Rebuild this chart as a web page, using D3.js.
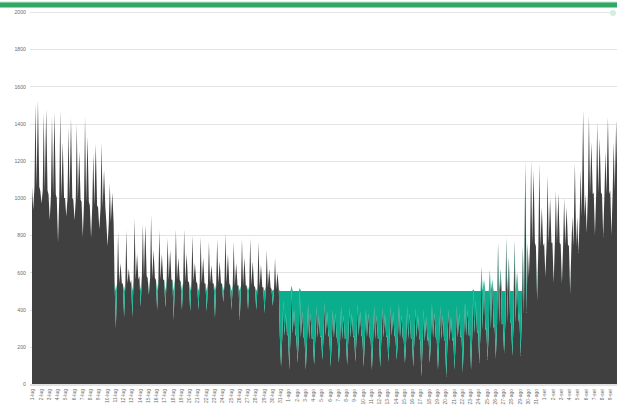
<!DOCTYPE html>
<html>
<head>
<meta charset="utf-8">
<script src="https://cdn.jsdelivr.net/npm/d3@7"></script>
<style>
  html, body { margin: 0; padding: 0; background: #ffffff; }
  svg { display: block; font-family: "Liberation Sans", Arial, sans-serif; }
</style>
</head>
<body>
<svg id="chart" width="617" height="408"></svg>
<script>
// Day labels (Italian short months)
const days = [
  "1-lug","2-lug","3-lug","4-lug","5-lug","6-lug","7-lug","8-lug","9-lug","10-lug",
  "11-lug","12-lug","13-lug","14-lug","15-lug","16-lug","17-lug","18-lug","19-lug","20-lug",
  "21-lug","22-lug","23-lug","24-lug","25-lug","26-lug","27-lug","28-lug","29-lug","30-lug",
  "31-lug","1-ago","2-ago","3-ago","4-ago","5-ago","6-ago","7-ago","8-ago","9-ago",
  "10-ago","11-ago","12-ago","13-ago","14-ago","15-ago","16-ago","17-ago","18-ago","19-ago",
  "20-ago","21-ago","22-ago","23-ago","24-ago","25-ago","26-ago","27-ago","28-ago","29-ago",
  "30-ago","31-ago","1-set","2-set","3-set","4-set","5-set","6-set","7-set","8-set","9-set"
];

// Typical daily level
const dayBody = [
  1060,1040,1020,1000,1000,990,980,960,950,870,
  540,540,560,580,570,560,560,560,550,550,
  540,540,540,540,530,530,530,520,520,510,
  260,270,250,240,250,260,250,240,250,260,
  250,240,250,260,250,240,250,230,250,240,
  230,250,260,270,290,300,320,330,330,380,
  760,740,760,760,750,740,900,1020,1030,1020,1040
];

// Daily minimum
const dayLow = [
  935,970,880,760,900,880,790,785,830,740,
  300,360,360,414,480,398,410,344,398,390,
  398,390,355,440,398,344,398,398,380,420,
  91,75,113,75,102,129,91,113,102,118,
  91,75,91,118,129,113,91,38,113,75,
  38,75,65,75,113,129,140,167,150,150,
  575,450,575,545,540,489,704,810,800,790,800
];

// First daily peak
const dayPeakA = [
  1510,1460,1440,1475,1380,1400,1440,1240,1300,1080,
  817,828,892,860,908,828,785,833,833,800,
  790,765,780,810,765,780,785,765,720,677,
  450,530,516,430,420,440,400,420,410,430,
  400,420,410,420,430,420,410,400,430,420,
  400,420,440,510,630,615,760,790,775,740,
  1204,1188,1124,1040,1000,900,1150,1446,1408,1250,1300
];

// Second daily peak
const dayPeakB = [
  1525,1480,1460,1300,1430,1250,1330,1290,1150,1030,
  650,620,700,855,720,700,720,680,700,650,
  680,640,660,700,650,680,660,640,620,600,
  380,400,390,380,370,390,380,370,380,390,
  380,370,380,390,370,380,370,360,380,370,
  360,380,400,450,560,560,620,683,600,1200,
  1150,950,1000,1027,950,1188,1473,1300,1323,1435,1420
];

// Reference level: the gap below it is shaded
const threshold = 500;

const yTicks = [0, 200, 400, 600, 800, 1000, 1200, 1400, 1600, 1800, 2000];

const colors = { load: "#404040", gap: "#0bae8c", grid: "#e3e3e3", text: "#6e6e6e" };

const svg = d3.select("#chart");
const W = 617, H = 408;

const x = d3.scaleLinear().domain([0, days.length]).range([32, 618.5]);
const y = d3.scaleLinear().domain([0, 2000]).range([384, 12]);

// Build the intra-day profile from the daily figures
const shape = [
  [dayBody, 0], [dayLow, 0.15], [dayBody, 0.30], [dayPeakA, 0.42],
  [dayBody, 0.55], [dayPeakB, 0.72], [dayBody, 0.88]
];
const points = [];
days.forEach((d, i) => {
  shape.forEach(([arr, f]) => points.push({ t: i + f, v: arr[i] }));
});
points.push({ t: days.length, v: dayBody[days.length - 1] });

// top banner
svg.append("rect").attr("x", 0).attr("y", 1.5).attr("width", W).attr("height", 1.2).attr("fill", "#bfe3cc");
svg.append("rect").attr("x", 0).attr("y", 2.5).attr("width", W).attr("height", 5).attr("fill", "#2fa864");

// gridlines
svg.append("g")
  .selectAll("line")
  .data(yTicks.filter(t => t > 0))
  .join("line")
  .attr("x1", 30).attr("x2", d => d === 2000 ? 610 : W)
  .attr("y1", d => Math.round(y(d)) + 0.5).attr("y2", d => Math.round(y(d)) + 0.5)
  .attr("stroke", colors.grid).attr("stroke-width", 1);

// y axis labels
const yAxis = d3.axisLeft(y).tickValues(yTicks).tickFormat(d3.format("d")).tickSize(0).tickPadding(0);
const gy = svg.append("g").attr("transform", "translate(26,0)").call(yAxis);
gy.select(".domain").remove();
gy.selectAll("text")
  .attr("fill", colors.text)
  .style("font-size", "5.2px");

// dark load area
const areaLoad = d3.area()
  .x(d => x(d.t))
  .y0(y(0))
  .y1(d => y(d.v));
svg.append("path").datum(points).attr("d", areaLoad).attr("fill", colors.load);

// shaded gap up to the threshold
const areaGap = d3.area()
  .x(d => x(d.t))
  .y0(d => y(d.v))
  .y1(d => y(Math.max(d.v, threshold)));
svg.append("path").datum(points).attr("d", areaGap).attr("fill", colors.gap);

// baseline
svg.append("line")
  .attr("x1", 30).attr("x2", W)
  .attr("y1", 385).attr("y2", 385)
  .attr("stroke", "#d6d6d6").attr("stroke-width", 1.6);

// x axis labels, one per day, rotated
const xAxis = d3.axisBottom(x)
  .tickValues(d3.range(days.length))
  .tickFormat(i => days[i])
  .tickSize(0).tickPadding(0);
const gx = svg.append("g").attr("transform", "translate(0,389)").call(xAxis);
gx.select(".domain").remove();
gx.selectAll("text")
  .attr("fill", colors.text)
  .style("font-size", "5px")
  .attr("text-anchor", "end")
  .attr("transform", "rotate(-90)")
  .attr("x", 0).attr("y", 0).attr("dy", "0.35em");

// small marker at the top right
svg.append("circle").attr("cx", 613).attr("cy", 13).attr("r", 3).attr("fill", "#d3eedd");
</script>
</body>
</html>
